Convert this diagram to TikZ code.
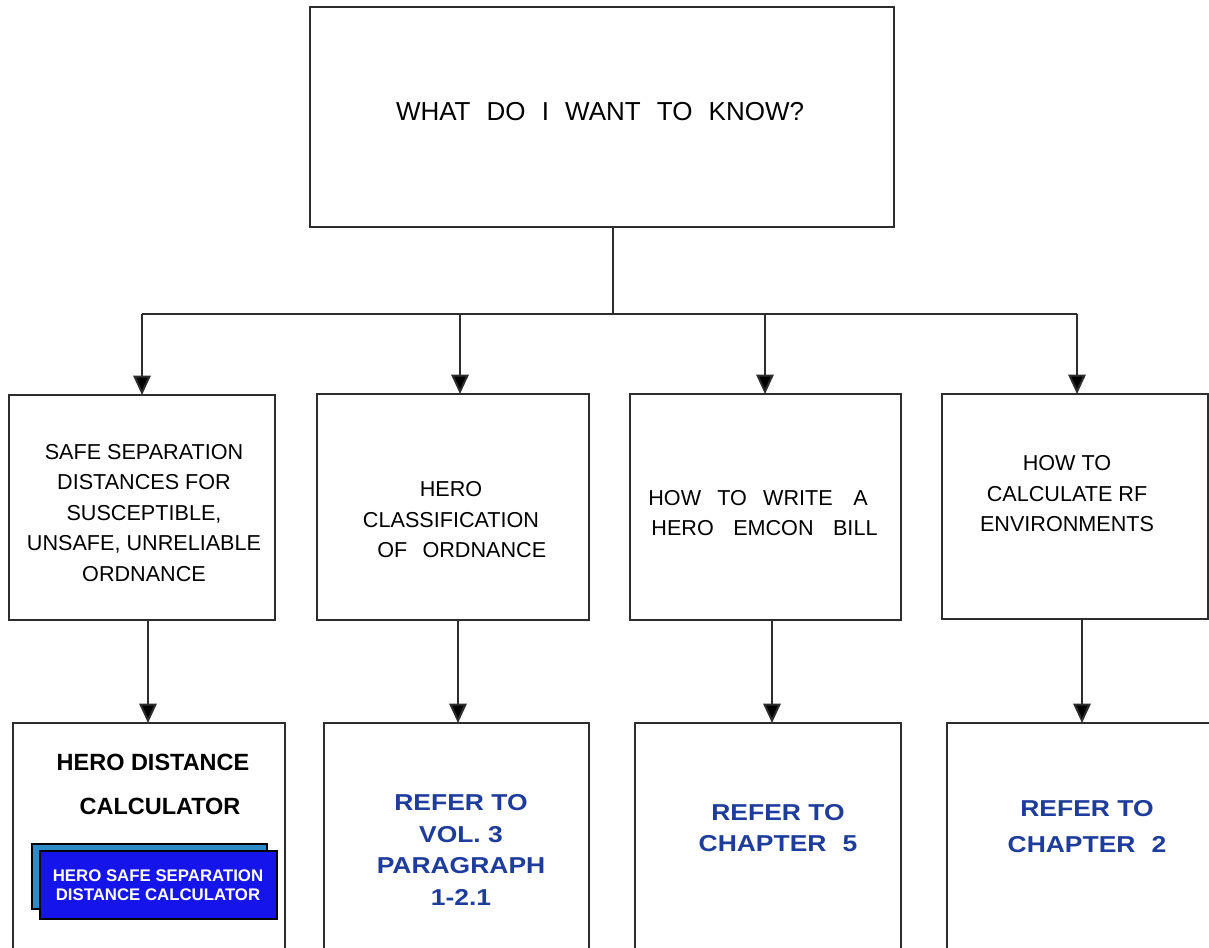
\documentclass[tikz,border=0pt]{standalone}
\usepackage{fontspec}
\setmainfont{Liberation Sans}
\newfontfamily\widesans[FakeStretch=1.15]{Liberation Sans}
\usetikzlibrary{arrows.meta}
\definecolor{linegray}{RGB}{45,45,45}
\definecolor{refblue}{RGB}{30,60,155}
\definecolor{btnfront}{RGB}{20,20,235}
\definecolor{btnback}{RGB}{45,140,200}
\newcommand\mkrect[6][]{%
  \node[#1, minimum width={(#5-#3)*0.75pt}, minimum height={(#6-#4)*0.75pt}]
    (#2) at ({(#3+#5)/2},{(#4+#6)/2}) {};}
\newcommand\gap[1]{\hspace{#1em}}
\tikzset{
  box/.style={draw=linegray, line width=1.5pt, fill=white, inner sep=0pt, outer sep=0pt, rectangle},
  btnb/.style={box, fill=btnback, draw=black, line width=1.2pt},
  btnf/.style={box, fill=btnfront, draw=black, line width=1.2pt},
  conn/.style={draw=linegray, line width=1.5pt},
  arr/.style={conn, -{Triangle[width=13pt,length=14.5pt,fill=black]}},
  toptxt/.style={inner sep=0pt, font=\fontsize{19.5}{24}\selectfont},
  midtxt/.style={inner sep=0pt, align=center, font=\fontsize{16.2}{22.9}\selectfont},
  hdtxt/.style={inner sep=0pt, align=center, font=\bfseries\fontsize{17.6}{33}\selectfont},
  btntxt/.style={inner sep=0pt, align=center, text=white, font=\bfseries\fontsize{12.6}{14.3}\selectfont},
  reftxt/.style={inner sep=0pt, align=center, text=refblue, font=\widesans\bfseries\fontsize{17.25}{23.6}\selectfont},
}
\begin{document}
\begin{tikzpicture}[x=0.75pt,y=-0.75pt]
\useasboundingbox (0,0) rectangle (1209,947);
\clip (0,0) rectangle (1209,947);
% boxes
\mkrect[box]{top}{310}{7}{894}{227}
\mkrect[box]{b1}{9}{395}{275}{620}
\mkrect[box]{b2}{317}{394}{589}{620}
\mkrect[box]{b3}{630}{394}{901}{620}
\mkrect[box]{b4}{942}{394}{1208}{619}
\mkrect[box]{c1}{13}{723}{285}{965}
\mkrect[box]{c2}{324}{723}{589}{965}
\mkrect[box]{c3}{635}{723}{901}{965}
\mkrect[box]{c4}{947}{723}{1230}{965}
\mkrect[btnb]{btnback}{32}{844}{267}{909}
\mkrect[btnf]{btnfront}{40}{851}{277}{919}
% texts
\node[toptxt] (tq) at (600,112) {WHAT\gap{0.62}DO\gap{0.62}I\gap{0.62}WANT\gap{0.62}TO\gap{0.62}KNOW?};
\node[midtxt] (t1) at (144,513) {SAFE SEPARATION\\DISTANCES FOR\\SUSCEPTIBLE,\\UNSAFE, UNRELIABLE\\ORDNANCE};
\node[midtxt] (t2) at (451,520) {HERO\\CLASSIFICATION\\\hspace*{1em}OF\gap{0.7}ORDNANCE};
\node[midtxt] (t3) at (758,513) {HOW\gap{0.75}TO\gap{0.75}WRITE\gap{0.95}A\\\hspace*{0.6em}HERO\gap{0.9}EMCON\gap{0.9}BILL};
\node[midtxt] (t4) at (1067,494) {HOW TO\\CALCULATE RF\\ENVIRONMENTS};
\node[hdtxt] (h1) at (153,784) {HERO DISTANCE\\\hspace*{0.6em}CALCULATOR};
\node[btntxt] (bt) at (158,885.5) {HERO SAFE SEPARATION\\DISTANCE CALCULATOR};
\node[reftxt] (r2) at (461,850) {REFER TO\\VOL. 3\\PARAGRAPH\\1-2.1};
\node[reftxt, font=\widesans\bfseries\fontsize{17.25}{22.9}\selectfont] (r3) at (778,828) {REFER TO\\CHAPTER\gap{0.7}5};
\node[reftxt, font=\widesans\bfseries\fontsize{17.25}{27}\selectfont] (r4) at (1087,827) {REFER TO\\CHAPTER\gap{0.7}2};
% connectors
\coordinate (j) at (613,314);
\coordinate (j1) at (142,314);
\coordinate (j2) at (460,314);
\coordinate (j3) at (765,314);
\coordinate (j4) at (1077,314);
\coordinate (k1) at (148,0);
\coordinate (k2) at (458,0);
\coordinate (k3) at (772,0);
\coordinate (k4) at (1082,0);
\draw[conn] (top.south -| j) -- (j);
\draw[conn] (j1) -- (j4);
\draw[arr] (j1) -- (j1 |- b1.north);
\draw[arr] (j2) -- (j2 |- b2.north);
\draw[arr] (j3) -- (j3 |- b3.north);
\draw[arr] (j4) -- (j4 |- b4.north);
\draw[arr] (b1.south -| k1) -- (c1.north -| k1);
\draw[arr] (b2.south -| k2) -- (c2.north -| k2);
\draw[arr] (b3.south -| k3) -- (c3.north -| k3);
\draw[arr] (b4.south -| k4) -- (c4.north -| k4);
\end{tikzpicture}
\end{document}
